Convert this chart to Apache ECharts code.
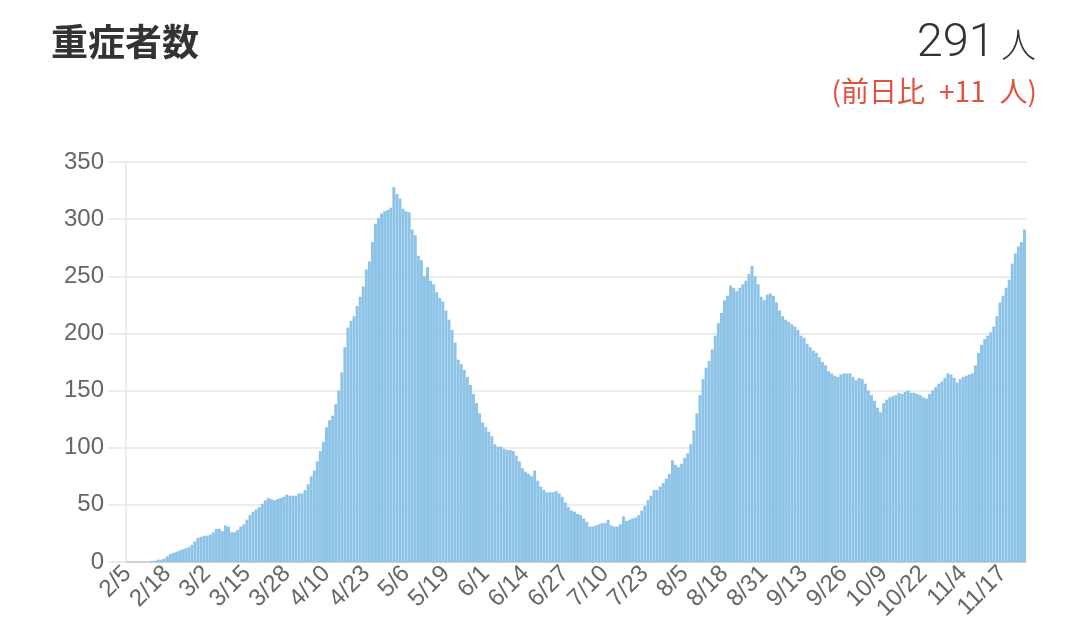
<!DOCTYPE html>
<html><head><meta charset="utf-8">
<script src="https://cdn.jsdelivr.net/npm/echarts@6/dist/echarts.min.js"></script>
<style>html,body{margin:0;padding:0;background:#fff}#c{width:1080px;height:631px}</style>
</head><body><div id="c"></div>
<script>
const titleText = '重症者数';
const latestValue = 291;
const dayChange = 11;
const startDate = [2020, 2, 5]; // year, month, day of first bar
const yTicks = [0, 50, 100, 150, 200, 250, 300, 350];
const severe = [
0,0,0,0,0,0,0,0,
1,1,2,2,3,
5,7,8,9,10,11,12,13,
15,18,21,22,23,23,24,26,29,29,
27,32,31,26,26,28,31,33,37,41,
44,46,48,51,54,56,55,54,55,56,
57,59,58,58,58,60,60,63,68,75,
80,88,97,105,118,124,128,138,150,166,
188,205,211,215,224,232,241,256,263,280,
296,301,305,307,308,310,328,322,318,309,
307,306,291,286,268,264,250,258,246,243,
236,231,228,220,212,203,192,177,173,168,
162,155,147,139,130,122,118,114,110,103,
101,101,99,98,98,97,93,88,82,79,
77,75,80,71,66,63,61,61,61,62,
60,57,52,48,45,44,42,41,38,35,
31,31,32,33,34,34,37,32,31,31,
33,40,36,37,38,39,41,45,49,54,
58,63,63,66,69,73,77,89,85,83,
86,91,95,103,115,130,146,160,170,176,
186,198,209,218,229,233,242,240,237,240,
243,246,252,259,250,243,232,229,234,235,
233,227,220,215,212,210,208,206,203,198,
196,191,188,185,183,179,175,172,167,165,
163,162,164,165,165,165,162,159,161,160,
156,150,146,141,135,131,139,142,144,145,
146,148,147,149,150,148,148,147,146,144,
143,147,150,153,156,158,161,165,164,161,
157,160,162,163,164,165,172,183,190,195,
198,201,206,215,227,233,240,247,261,270,
276,280,291
];
const dates = severe.map((_, i) => {
  const d = new Date(startDate[0], startDate[1] - 1, startDate[2] + i);
  return (d.getMonth() + 1) + '/' + d.getDate();
});

const chart = echarts.init(document.getElementById('c'), null, {renderer: 'canvas'});
chart.setOption({
  animation: false,
  backgroundColor: '#fff',
  title: [
    {text: titleText, left: 46, top: 18,
     textStyle: {fontFamily: '"Noto Sans CJK JP"', fontSize: 37, fontWeight: 'bold', color: '#333'}},
    {text: '{n|' + latestValue + '}{s| }{u|人}', right: 39, top: 16,
     textStyle: {rich: {
       n: {fontFamily: 'Roboto, "Liberation Sans"', fontSize: 47, color: '#333', fontWeight: 300},
       s: {fontSize: 22},
       u: {fontFamily: '"Noto Sans CJK JP"', fontSize: 35, color: '#333', fontWeight: 300}
     }}},
    {text: '(前日比\u2002+' + dayChange + '\u2002人)', right: 38, top: 72,
     textStyle: {fontFamily: '"Noto Sans CJK JP"', fontSize: 28, color: '#e0533e', fontWeight: 'normal'}}
  ],
  grid: {left: 126, right: 54, top: 162, bottom: 69, containLabel: false},
  xAxis: {
    type: 'category', data: dates, boundaryGap: true,
    axisLine: {show: true, lineStyle: {color: '#c8c8c8', width: 1.5}},
    axisTick: {show: false},
    axisLabel: {interval: 12, rotate: 45, margin: 8, color: '#666', fontSize: 24,
      fontFamily: '"Liberation Sans", Arial'},
    splitLine: {show: false}
  },
  yAxis: {
    type: 'value', min: yTicks[0], max: yTicks[yTicks.length - 1], interval: 50,
    axisLine: {show: true, lineStyle: {color: '#e6e6e6', width: 1.5}},
    axisTick: {show: true, length: 18, lineStyle: {color: '#e6e6e6', width: 1.5}},
    axisLabel: {margin: 22, color: '#666', fontSize: 24, fontFamily: '"Liberation Sans", Arial'},
    splitLine: {show: true, lineStyle: {color: '#e6e6e6', width: 1.5}}
  },
  series: [{
    type: 'bar', data: severe, barCategoryGap: '4%',
    itemStyle: {color: '#8cc3e6'}
  }]
});
</script></body></html>
